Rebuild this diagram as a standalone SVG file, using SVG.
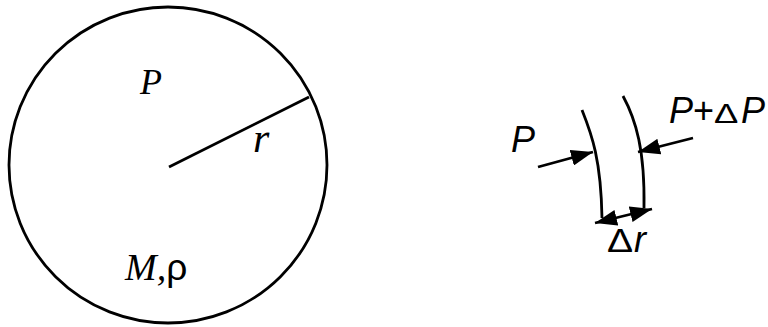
<svg xmlns="http://www.w3.org/2000/svg" width="768" height="327" viewBox="0 0 768 327">
<style>
.ln{fill:none;stroke:#000;stroke-width:2.8}
.serif{font-family:"Liberation Serif","Times New Roman",serif;font-style:italic;fill:#000}
.sans{font-family:"Liberation Sans",Arial,sans-serif;fill:#000}
</style>
<defs>
<marker id="ah" viewBox="0 0 22 16" refX="22" refY="8" markerWidth="22" markerHeight="16" markerUnits="userSpaceOnUse" orient="auto-start-reverse">
<path d="M0,0 L22,8 L0,16 z" fill="#000"/>
</marker>
</defs>
<rect width="768" height="327" fill="#fff"/>
<g id="sphere">
<ellipse class="ln" cx="168" cy="165" rx="159" ry="158"/>
<line class="ln" x1="169" y1="167" x2="309" y2="97"/>
<text class="serif" x="140" y="94" font-size="36">P</text>
<text class="serif" x="253" y="152" font-size="42">r</text>
<text class="serif" x="125" y="280" font-size="38">M,<tspan class="sans" font-style="normal" font-size="37">ρ</tspan></text>
</g>
<g id="shell">
<path class="ln" d="M582,110 C592,135 601,160 602,218"/>
<path class="ln" d="M623,96 C636,120 645,150 644,208"/>
</g>
<g id="connectors">
<line class="ln" x1="538" y1="167" x2="593" y2="152" marker-end="url(#ah)"/>
<line class="ln" x1="693" y1="138" x2="638" y2="152" marker-end="url(#ah)"/>
<line class="ln" x1="595" y1="223" x2="652" y2="209" marker-start="url(#ah)" marker-end="url(#ah)"/>
</g>
<g id="labels">
<text class="sans" x="511" y="152" font-size="36" font-style="italic">P</text>
<text class="sans" x="669" y="123" font-size="36"><tspan font-style="italic">P</tspan>+</text>
<text class="sans" transform="translate(714,123) scale(1.3,1)" font-size="28">Δ</text>
<text class="sans" x="741" y="123" font-size="36" font-style="italic">P</text>
<text class="sans" transform="translate(607,252) scale(1.15,1)" font-size="34">Δ</text>
<text class="sans" x="634" y="252" font-size="36" font-style="italic">r</text>
</g>
</svg>
